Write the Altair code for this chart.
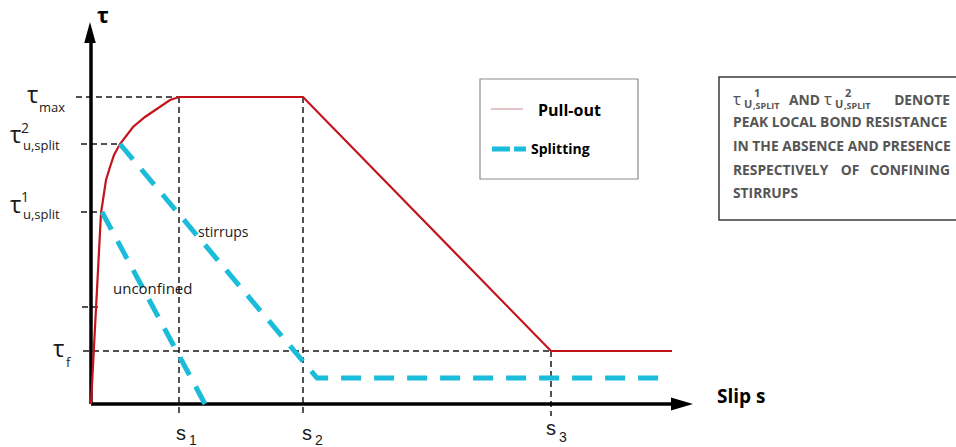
import altair as alt
import pandas as pd

# ---------------------------------------------------------------
# Local bond stress - slip law (schematic units: slip s, stress tau)
# ---------------------------------------------------------------

# characteristic values
s1, s2, s3 = 8.8, 21.2, 46.0
tau_max, tau_u2, tau_u1, tau_f = 30.7, 26.0, 19.2, 5.3
tau_tick = 9.7

# pull-out branch
pullout_s = [0.0, 1.0, 1.2, 1.5, 1.9, 2.3, 2.9, 4.2, 5.4, 7.9, s1, s2, s3, 58.1]
pullout_tau = [0.0, 19.1, 20.4, 22.4, 23.7, 24.9, 26.0, 27.7, 28.7, 30.4,
               tau_max, tau_max, tau_f, tau_f]

# splitting branch, unconfined concrete
unconf_s = [1.1, 11.4]
unconf_tau = [tau_u1, 0.0]

# splitting branch, confined by stirrups
stirrup_s = [2.9, 22.6, 57.1]
stirrup_tau = [tau_u2, 2.6, 2.6]

# dashed reference lines (s0, tau0, s1, tau1)
guide_segments = [
    (-1.5, tau_max, s1, tau_max),
    (-1.0, tau_u2, 2.9, tau_u2),
    (-1.0, tau_u1, 1.1, tau_u1),
    (-0.9, tau_tick, 0.8, tau_tick),
    (-0.8, tau_f, s3, tau_f),
    (s1, tau_max, s1, -0.9),
    (s2, tau_max, s2, -0.9),
    (s3, tau_f, s3, -1.2),
]

# coordinate axes (drawn as arrows)
axis_segments = [
    (0.0, 0.0, 0.0, 36.3),
    (0.0, 0.0, 58.2, 0.0),
]

RED = "#C3141C"
CYAN = "#1BBCDA"
INK = "#1a1a1a"
NOTE = "#555555"

xs = alt.Scale(domain=[-9.1, 86.5], nice=False, zero=False)
ys = alt.Scale(domain=[-4.3, 40.4], nice=False, zero=False)


def curve(s, tau):
    return pd.DataFrame({"s": s, "tau": tau, "i": range(len(s))})


def segments(rows):
    return pd.DataFrame(rows, columns=["x0", "y0", "x1", "y1"])


def seg_layer(df, **mark):
    return alt.Chart(df).mark_rule(**mark).encode(
        x=alt.X("x0:Q", scale=xs, axis=None),
        y=alt.Y("y0:Q", scale=ys, axis=None),
        x2="x1:Q",
        y2="y1:Q",
    )


def line_layer(df, **mark):
    return alt.Chart(df).mark_line(**mark).encode(
        x=alt.X("s:Q", scale=xs, axis=None),
        y=alt.Y("tau:Q", scale=ys, axis=None),
        order="i:Q",
    )


def text_layer(rows, **mark):
    df = pd.DataFrame(rows, columns=["label", "x", "y", "size"])
    opts = dict(align="left", baseline="alphabetic")
    opts.update(mark)
    return alt.Chart(df).mark_text(**opts).encode(
        x=alt.X("x:Q", scale=xs, axis=None),
        y=alt.Y("y:Q", scale=ys, axis=None),
        text="label:N",
        size=alt.Size("size:Q", scale=None),
    )


guides = seg_layer(segments(guide_segments), color=INK, strokeWidth=1.5,
                   strokeDash=[6, 4])
axes = seg_layer(segments(axis_segments), color="black", strokeWidth=3.5)

arrow_y = alt.Chart(pd.DataFrame({"x": [-0.1], "y": [37.15]})).mark_point(
    shape="M0,-1L0.55,1L-0.55,1Z", size=441, filled=True, color="black", opacity=1
).encode(x=alt.X("x:Q", scale=xs, axis=None), y=alt.Y("y:Q", scale=ys, axis=None))

arrow_x = alt.Chart(pd.DataFrame({"x": [59.1], "y": [0.0]})).mark_point(
    shape="M1,0L-1,0.6L-1,-0.6Z", size=484, filled=True, color="black", opacity=1
).encode(x=alt.X("x:Q", scale=xs, axis=None), y=alt.Y("y:Q", scale=ys, axis=None))

pullout = line_layer(curve(pullout_s, pullout_tau), color=RED, strokeWidth=2.2)
unconfined = line_layer(curve(unconf_s, unconf_tau), color=CYAN, strokeWidth=5,
                        strokeDash=[20, 13])
stirrups = line_layer(curve(stirrup_s, stirrup_tau), color=CYAN, strokeWidth=5,
                      strokeDash=[20, 13])

# ---- axis labels ------------------------------------------------
tau_glyphs = text_layer([
    ("τ", -6.4, 30.1, 24),
    ("τ", -8.1, 26.1, 24),
    ("τ", -8.1, 19.1, 24),
    ("τ", -3.8, 4.7, 24),
], font="Open Sans", color=INK)

tau_indices = text_layer([
    ("max", -5.2, 29.2, 13),
    ("2", -7.0, 27.1, 14),
    ("u,split", -6.8, 25.4, 13),
    ("1", -7.0, 20.2, 14),
    ("u,split", -6.8, 18.5, 13),
    ("f", -2.5, 3.7, 13),
], font="Open Sans", color=INK)

tau_title = text_layer([("τ", 0.6, 38.1, 22)], font="Open Sans",
                       fontWeight="bold", color="black")

s_labels = text_layer([
    ("s", 8.5, -3.6, 20), ("1", 9.8, -4.1, 14),
    ("s", 21.1, -3.6, 20), ("2", 22.4, -4.1, 14),
    ("s", 45.5, -3.1, 20), ("3", 46.8, -3.8, 14),
], font="Liberation Sans", color=INK)

slip_title = text_layer([("Slip s", 62.6, 0.1, 19)], font="Open Sans",
                        fontWeight="bold", color="black")

branch_names = text_layer([
    ("stirrups", 10.7, 16.7, 14),
    ("unconfined", 2.2, 11.0, 15),
], font="Open Sans", color=INK)

# ---- legend -----------------------------------------------------
legend_box = alt.Chart(pd.DataFrame(
    {"x0": [38.9], "x1": [54.7], "y0": [32.5], "y1": [22.5]}
)).mark_rect(fillOpacity=0, stroke="#8c8c8c", strokeWidth=1.2).encode(
    x=alt.X("x0:Q", scale=xs, axis=None), x2="x1:Q",
    y=alt.Y("y0:Q", scale=ys, axis=None), y2="y1:Q",
)
legend_red = seg_layer(segments([(40.0, 29.5, 43.2, 29.5)]), color="#c98a8f",
                       strokeWidth=1)
legend_cyan = seg_layer(segments([(40.1, 25.5, 43.5, 25.5)]), color=CYAN,
                        strokeWidth=5, strokeDash=[18, 4])
legend_text = text_layer([
    ("Pull-out", 44.7, 28.8, 16),
    ("Splitting", 44.0, 25.0, 14),
], font="Open Sans", fontWeight="bold", color="black")

# ---- explanatory note -------------------------------------------
note_box = alt.Chart(pd.DataFrame(
    {"x0": [62.8], "x1": [87.2], "y0": [32.7], "y1": [18.4]}
)).mark_rect(fillOpacity=0, stroke="#3a3a3a", strokeWidth=1.5).encode(
    x=alt.X("x0:Q", scale=xs, axis=None), x2="x1:Q",
    y=alt.Y("y0:Q", scale=ys, axis=None), y2="y1:Q",
)

note_tau = text_layer([
    ("τ", 64.2, 29.9, 17),
    ("τ", 73.3, 29.9, 17),
], font="Open Sans", color=NOTE)

note_sup = text_layer([
    ("U", 65.3, 29.6, 11), ("1", 66.3, 30.7, 11), (",SPLIT", 66.2, 29.5, 9),
    ("U", 74.4, 29.6, 11), ("2", 75.4, 30.7, 11), (",SPLIT", 75.3, 29.5, 9),
], font="Open Sans", fontWeight="bold", color=NOTE)

note_words_left = text_layer([
    ("AND", 69.8, 29.9, 13.8),
    ("PEAK LOCAL BOND RESISTANCE", 64.2, 27.7, 13.8),
    ("IN THE ABSENCE AND PRESENCE", 64.2, 25.3, 13.8),
    ("RESPECTIVELY", 64.2, 22.9, 13.8),
    ("STIRRUPS", 64.2, 20.6, 13.8),
], font="Open Sans", fontWeight="bold", color=NOTE)

note_words_mid = text_layer([
    ("OF", 75.9, 22.9, 13.8),
], font="Open Sans", fontWeight="bold", color=NOTE, align="center")

note_words_right = text_layer([
    ("DENOTE", 85.9, 29.9, 13.8),
    ("CONFINING", 85.9, 22.9, 13.8),
], font="Open Sans", fontWeight="bold", color=NOTE, align="right")

chart = alt.layer(
    guides, axes, arrow_y, arrow_x, pullout, unconfined, stirrups,
    tau_glyphs, tau_indices, tau_title, s_labels, slip_title, branch_names,
    legend_box, legend_red, legend_cyan, legend_text,
    note_box, note_tau, note_sup, note_words_left, note_words_mid,
    note_words_right,
).properties(
    width=956, height=447,
    autosize=alt.AutoSizeParams(type="none"),
    padding=0,
).configure_view(stroke=None)

chart.save("out.html", embed_options={"renderer": "svg", "actions": False})
